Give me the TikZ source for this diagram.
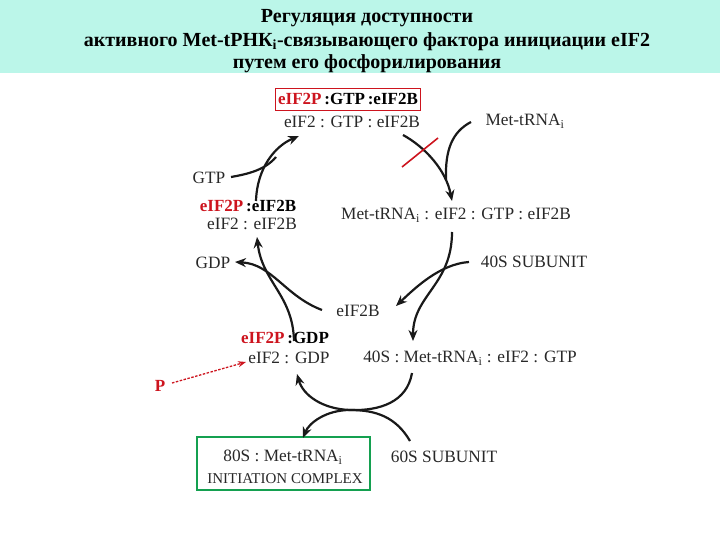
\documentclass[tikz,border=0pt]{standalone}
\usepackage{fontspec}
\setmainfont{Liberation Serif}
\usetikzlibrary{arrows.meta}
\definecolor{band}{RGB}{187,246,233}
\definecolor{darkred}{RGB}{205,20,30}
\definecolor{boxgreen}{RGB}{20,160,80}
\definecolor{txt}{RGB}{40,40,40}
\tikzset{
  lbl/.style={text=txt,font=\fontsize{17.3}{19}\selectfont,inner sep=0pt},
  blbl/.style={font=\bfseries\fontsize{17}{19}\selectfont,inner sep=0pt},
  ttl/.style={font=\bfseries\fontsize{20}{22}\selectfont,inner sep=0pt},
  arc/.style={line width=2.2pt,draw=black!90,-{Stealth[length=11pt,width=9pt]}},
  arcn/.style={line width=2.2pt,draw=black!90},
}
\begin{document}
\begin{tikzpicture}[x=1pt,y=-1pt]
\useasboundingbox (0,0) rectangle (720,540);
\fill[band] (0,0) rectangle (720,73);
\node[ttl] (t1) at (367,18) {Регуляция доступности};
\node[ttl] (t2) at (367,42) {активного Met-tРНК\textsubscript{i}-связывающего фактора инициации eIF2};
\node[ttl] (t3) at (367,64) {путем его фосфорилирования};

\node[draw=darkred,line width=0.9pt,minimum width=145pt,minimum height=22pt,inner sep=0pt] (top) at (347.5,99) {};
\node[blbl] (toptxt) at (348,99) {\textcolor{darkred}{eIF2P}\,:GTP\,:eIF2B};
\node[lbl] (A) at (352,122) {eIF2 : GTP : eIF2B};
\node[lbl] (M) at (525,121) {Met-tRNA\textsubscript{i}};
\node[lbl] (gtp) at (209,178) {GTP};
\node[blbl] (B1) at (248,206) {\textcolor{darkred}{eIF2P}\,:eIF2B};
\node[lbl] (B) at (252,224) {eIF2 : eIF2B};
\node[lbl] (C) at (456,215) {Met-tRNA\textsubscript{i} : eIF2 : GTP : eIF2B};
\node[lbl] (gdp) at (213,263) {GDP};
\node[lbl] (s40) at (534,262) {40S SUBUNIT};
\node[lbl] (E) at (358,311) {eIF2B};
\node[blbl] (D1) at (285,338) {\textcolor{darkred}{eIF2P}\,:GDP};
\node[lbl] (D) at (289,358) {eIF2 : GDP};
\node[lbl] (F) at (470,358) {40S : Met-tRNA\textsubscript{i} : eIF2 : GTP};
\node[blbl,text=darkred] (P) at (160,386) {P};
\node[draw=boxgreen,line width=1.8pt,minimum width=173pt,minimum height=53pt,inner sep=0pt] (H) at (283.5,463.5) {};
\node[lbl] (H1) at (283,457) {80S : Met-tRNA\textsubscript{i}};
\node[text=txt,inner sep=0pt,font=\fontsize{15}{17}\selectfont] (H2) at (285,479) {INITIATION COMPLEX};
\node[lbl] (s60) at (444,457) {60S SUBUNIT};

% coordinates
\coordinate (a1) at (256,201);
\coordinate (a2) at (299,136);
\coordinate (g1) at (231,177);
\coordinate (g2) at (276,157);
\coordinate (b1) at (403,135);
\coordinate (b2) at (452,201);
\coordinate (m1) at (471,122);
\coordinate (m2) at (446,180);
\coordinate (x1) at (402,167);
\coordinate (x2) at (438,138);
\coordinate (c1) at (452,232);
\coordinate (c2) at (413,341);
\coordinate (s1) at (469,262);
\coordinate (s2) at (396,306);
\coordinate (d1) at (294,341);
\coordinate (d2) at (257,237);
\coordinate (e1) at (322,310);
\coordinate (e2) at (235,262);
\coordinate (f1) at (412,373);
\coordinate (mid) at (350,410);
\coordinate (f2) at (297,374);
\coordinate (k1) at (410,441);
\coordinate (k2) at (303,438);
\coordinate (p1) at (172,383);
\coordinate (p2) at (246,362);

\draw[arc] (a1) .. controls (257,168) and (275,146) .. (a2);
\draw[arcn] (g1) .. controls (248,174) and (265,170) .. (g2);
\draw[arc] (b1) .. controls (425,147) and (446,170) .. (b2);
\draw[arcn] (m1) .. controls (452,132) and (445,150) .. (m2);
\draw[darkred,line width=1.6pt] (x1) -- (x2);
\draw[arc] (c1) .. controls (452,285) and (413,295) .. (c2);
\draw[arc] (s1) .. controls (440,264) and (415,288) .. (s2);
\draw[arc] (d1) .. controls (293,295) and (262,282) .. (d2);
\draw[arc] (e1) .. controls (285,296) and (272,264) .. (e2);
\draw[arc] (f1) .. controls (407,402) and (380,411) .. (mid) .. controls (322,409) and (303,395) .. (f2);
\draw[arc] (k1) .. controls (396,417) and (376,410) .. (mid) .. controls (326,410) and (309,423) .. (k2);
\draw[darkred,line width=1.3pt,dash pattern=on 2.5pt off 1.5pt,-{Stealth[length=8pt,width=6pt]}] (p1) -- (p2);
\end{tikzpicture}
\end{document}
